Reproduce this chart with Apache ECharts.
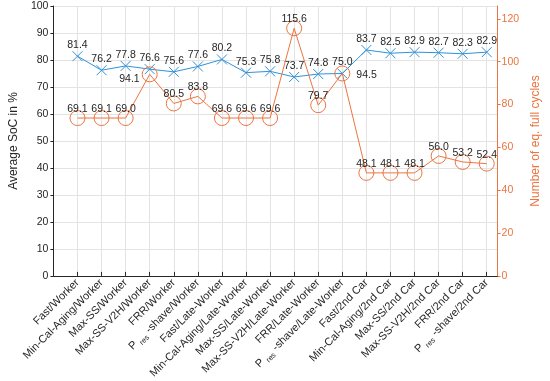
<!DOCTYPE html>
<html>
<head>
<meta charset="utf-8">
<script src="https://cdn.jsdelivr.net/npm/echarts@6/dist/echarts.min.js"></script>
<style>html,body{margin:0;padding:0;background:#fff}#c{width:550px;height:381px}</style>
</head>
<body>
<div id="c"></div>
<script>
// ---- data ----
var categories = ['Fast/Worker','Min-Cal-Aging/Worker','Max-SS/Worker','Max-SS-V2H/Worker','FRR/Worker','P_res-shave/Worker',
  'Fast/Late-Worker','Min-Cal-Aging/Late-Worker','Max-SS/Late-Worker','Max-SS-V2H/Late-Worker','FRR/Late-Worker','P_res-shave/Late-Worker',
  'Fast/2nd Car','Min-Cal-Aging/2nd Car','Max-SS/2nd Car','Max-SS-V2H/2nd Car','FRR/2nd Car','P_res-shave/2nd Car'];
var socValues = [81.4,76.2,77.8,76.6,75.6,77.6,80.2,75.3,75.8,73.7,74.8,75.0,83.7,82.5,82.9,82.7,82.3,82.9];
// plotted positions of the cycle markers (as drawn in the figure)
var cycleValues = [73.7,73.7,73.7,94.1,80.5,83.8,73.7,73.7,73.7,115.6,79.7,94.5,48.1,48.1,48.1,56.0,53.2,52.4];
// printed cycle labels
var cycleLabels = ['69.1','69.1','69.0','94.1','80.5','83.8','69.6','69.6','69.6','115.6','79.7','94.5','48.1','48.1','48.1','56.0','53.2','52.4'];
var leftTicks = [0,10,20,30,40,50,60,70,80,90,100];
var rightTicks = [0,20,40,60,80,100,120];

var BLUE = '#3092D6', ORANGE = '#EC7440', DARK = '#262626', FONT = 'Liberation Sans, Arial, sans-serif';

var socData = socValues.map(function(v,i){ return [i+1, v]; });
var cycData = cycleValues.map(function(v,i){
  var item = {value:[i+1, v], lab: cycleLabels[i]};
  if (i === 3) item.label = {position:'left', distance:2, offset:[0,5]};
  if (i === 11) item.label = {position:'right', distance:6, offset:[0,2]};
  return item;
});

var chart = echarts.init(document.getElementById('c'), null, {renderer:'canvas'});
chart.setOption({
  animation:false,
  textStyle:{fontFamily:FONT},
  grid:{left:37, right:39, top:6, bottom:105, containLabel:false},
  xAxis:{
    type:'value', min:0, max:18.45, interval:1,
    axisLine:{show:true, lineStyle:{color:DARK, width:1}},
    axisTick:{show:true, inside:true, length:4, lineStyle:{color:DARK}},
    splitLine:{show:true, lineStyle:{color:'#E3E3E3', width:1}},
    axisLabel:{
      rotate:45, margin:5, fontSize:11, color:DARK, fontFamily:FONT,
      showMinLabel:false, showMaxLabel:false,
      formatter:function(v){
        if (Math.abs(v-Math.round(v))>1e-6) return '';
        var i = Math.round(v);
        if (i<1 || i>categories.length) return '';
        var s = categories[i-1];
        if (s.indexOf('P_res')===0) return '{a|P }{b|res}{a| ' + s.slice(5) + '}';
        return s;
      },
      rich:{
        a:{fontSize:11, color:DARK, fontFamily:FONT},
        b:{fontSize:7.5, color:DARK, fontFamily:FONT, padding:[8,0,0,0]}
      }
    }
  },
  yAxis:[{
    type:'value', min:leftTicks[0], max:leftTicks[leftTicks.length-1], interval:10, position:'left',
    name:'Average SoC in %', nameLocation:'middle', nameGap:19, nameRotate:90,
    nameTextStyle:{fontSize:12, color:DARK, fontFamily:FONT},
    axisLine:{show:true, lineStyle:{color:DARK, width:1}},
    axisTick:{show:true, length:3, lineStyle:{color:DARK}},
    splitLine:{show:true, lineStyle:{color:'#E3E3E3', width:1}},
    axisLabel:{fontSize:10.5, color:DARK, margin:5, fontFamily:FONT}
  },{
    type:'value', min:0, max:126, interval:20, position:'right',
    name:'Number of eq. full cycles', nameLocation:'middle', nameGap:27, nameRotate:90,
    nameTextStyle:{fontSize:12, color:ORANGE, fontFamily:FONT},
    axisLine:{show:true, lineStyle:{color:ORANGE, width:1}},
    axisTick:{show:true, length:3, lineStyle:{color:ORANGE}},
    splitLine:{show:false},
    axisLabel:{fontSize:10.5, color:ORANGE, margin:4, fontFamily:FONT, showMaxLabel:false,
      formatter:function(v){ return rightTicks.indexOf(v)>=0 ? String(v) : ''; }}
  }],
  series:[{
    type:'line', yAxisIndex:0, data:socData, z:3,
    symbol:'path://M0,0L10,10M10,0L0,10', symbolSize:10, showAllSymbol:true,
    lineStyle:{color:BLUE, width:1},
    itemStyle:{color:BLUE, borderColor:BLUE, borderWidth:1},
    label:{show:true, position:'inside', offset:[0,-11], fontSize:10.5, color:DARK, fontFamily:FONT,
      formatter:function(p){ return p.value[1].toFixed(1); }},
    emphasis:{disabled:true}
  },{
    type:'line', yAxisIndex:1, data:cycData, z:4,
    symbol:'circle', symbolSize:15, showAllSymbol:true,
    lineStyle:{color:ORANGE, width:1},
    itemStyle:{color:'rgba(0,0,0,0)', borderColor:ORANGE, borderWidth:1},
    label:{show:true, position:'inside', offset:[0,-9], fontSize:10.5, color:DARK, fontFamily:FONT,
      formatter:function(p){ return p.data.lab; }},
    emphasis:{disabled:true}
  }]
});
</script>
</body>
</html>
